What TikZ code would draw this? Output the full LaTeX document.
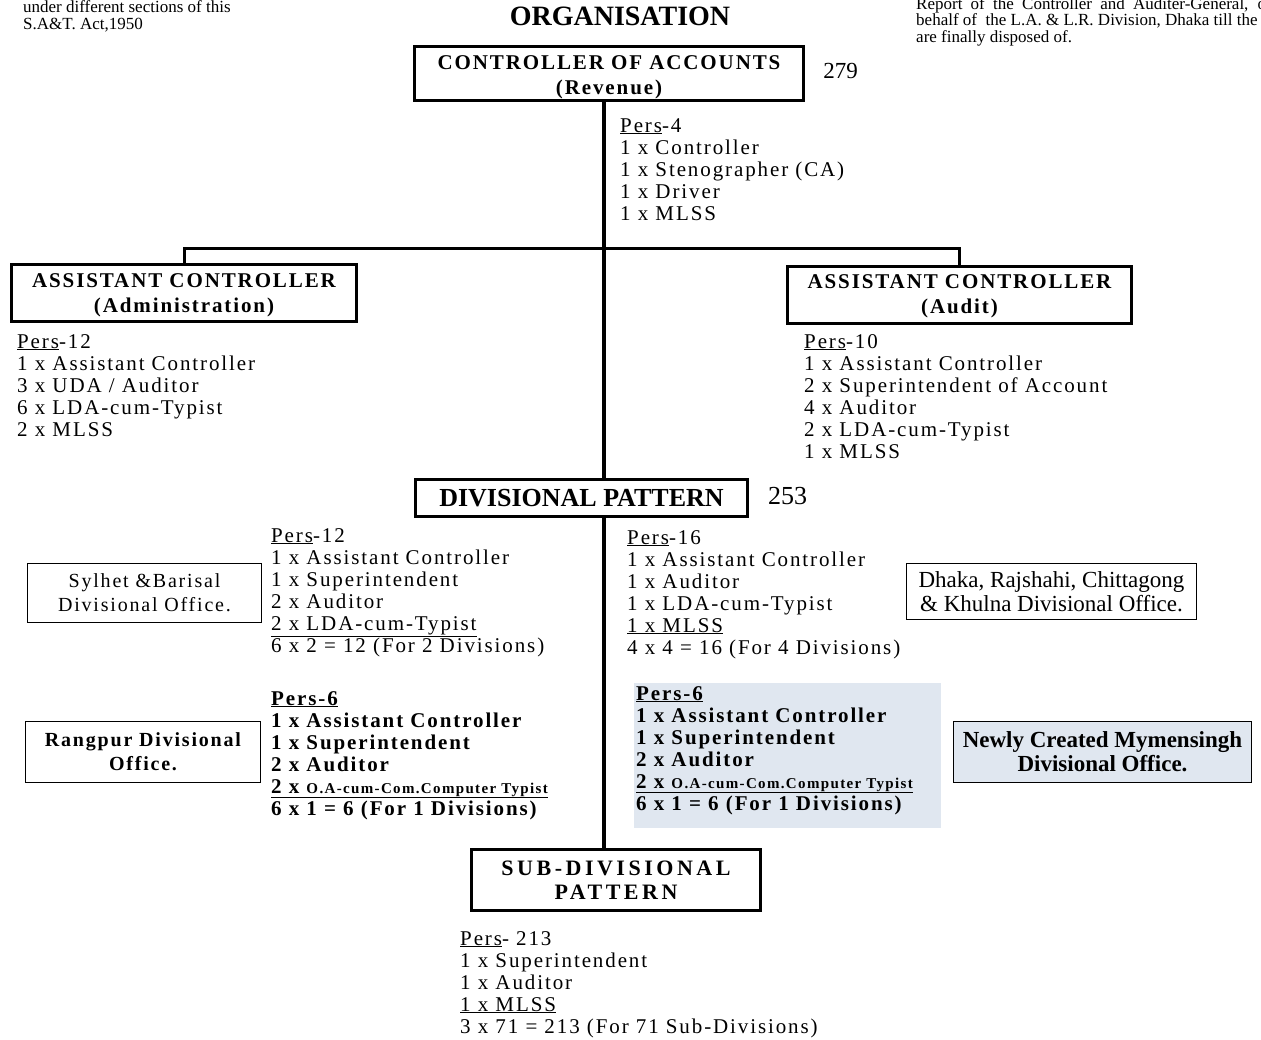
\documentclass[tikz,border=0pt]{standalone}
\usepackage{fontspec}
\setmainfont{Liberation Serif}
\newfontfamily\wide[LetterSpace=9]{Liberation Serif}
\newfontfamily\wider[LetterSpace=16]{Liberation Serif}
\definecolor{paleblue}{RGB}{224,231,240}
\tikzset{
    heavybox/.style={draw, line width=3.5pt, fill=white, align=center, inner sep=0pt},
    lightbox/.style={draw, line width=1.2pt, fill=white, align=center, inner sep=0pt},
    stemline/.style={line width=4pt},
    branchline/.style={line width=3pt},
    lst/.style={anchor=base west, inner sep=0pt, font=\wide\fontsize{21}{22}\selectfont},
    blst/.style={anchor=base west, inner sep=0pt, font=\wide\bfseries\fontsize{21}{22}\selectfont},
    note/.style={anchor=base west, inner sep=0pt, font=\fontsize{17}{18}\selectfont},
}
\begin{document}
\begin{tikzpicture}[x=1pt,y=-1pt]
        \useasboundingbox (0,0) rectangle (1261,1039);
        \clip (0,0) rectangle (1261,1039);
        \fill [paleblue] (634,683) rectangle (941,828);
        \node [note] (left1) at (23,12) {under different sections of this};
        \node [note] (left2) at (23,29) {S.A\&T. Act,1950};
        \node [note] (right1) at (916,9) {\makebox[350pt][s]{Report of the Controller and Auditer-General, o}};
        \node [note] (right2) at (916,25) {behalf of~ the L.A. \& L.R. Division, Dhaka till the};
        \node [note] (right3) at (916,42) {are finally disposed of.};
        \node [inner sep=0pt, font=\bfseries\fontsize{28}{30}\selectfont] (title) at (620,16) {ORGANISATION};
        \node [heavybox, minimum width=389pt, minimum height=54pt, font=\wide\bfseries\fontsize{21}{25}\selectfont] (ctrl) at (609,73.5) {\rule{0pt}{21pt}CONTROLLER OF ACCOUNTS\\(Revenue)};
        \node [inner sep=0pt, font=\fontsize{23}{25}\selectfont] (n279) at (840.5,71) {279};
        \node [heavybox, minimum width=345pt, minimum height=57pt, font=\wide\bfseries\fontsize{21}{25}\selectfont] (admin) at (184,293) {\rule{0pt}{19pt}ASSISTANT CONTROLLER\\(Administration)};
        \node [heavybox, minimum width=344pt, minimum height=57pt, font=\wide\bfseries\fontsize{21}{25}\selectfont] (audit) at (959.5,295) {\rule{0pt}{17pt}ASSISTANT CONTROLLER\\(Audit)};
        \node [heavybox, minimum width=332pt, minimum height=37pt, font=\bfseries\fontsize{26}{28}\selectfont] (divpat) at (581.5,498) {DIVISIONAL PATTERN};
        \node [inner sep=0pt, font=\fontsize{26}{28}\selectfont] (n253) at (787.5,496) {253};
        \node [heavybox, minimum width=289pt, minimum height=61pt, font=\wider\bfseries\fontsize{22}{24}\selectfont] (subdiv) at (616,880) {SUB-DIVISIONAL\\PATTERN};
        \node [lightbox, minimum width=234pt, minimum height=59pt, font=\wide\fontsize{20}{24}\selectfont] (sylhet) at (144.5,593) {Sylhet \&Barisal\\Divisional Office.};
        \node [lightbox, minimum width=290pt, minimum height=56pt, font=\fontsize{23}{24}\selectfont] (dhaka) at (1051.5,591.5) {Dhaka, Rajshahi, Chittagong\\\& Khulna Divisional Office.};
        \node [lightbox, minimum width=235pt, minimum height=61pt, font=\wide\bfseries\fontsize{20}{24}\selectfont] (rangpur) at (143,752) {Rangpur Divisional\\Office.};
        \node [lightbox, fill=paleblue, minimum width=298pt, minimum height=61pt, font=\bfseries\fontsize{23}{24}\selectfont] (newly) at (1102.5,752) {Newly Created Mymensingh\\Divisional Office.};
        \coordinate (stem) at (604,248);
        \draw [stemline] (stem |- ctrl.south) -- (stem |- divpat.north);
        \draw [stemline] (stem |- divpat.south) -- (stem |- subdiv.north);
        \draw [branchline] (admin.north) |- (stem) -| (audit.north);
        \foreach \t [count=\i from 0] in {{\underline{Pers}-4}, {1 x Controller}, {1 x Stenographer (CA)}, {1 x Driver}, {1 x MLSS}}
            \node [lst] (ca-\i) at (620,{132+22*\i}) {\t};
        \foreach \t [count=\i from 0] in {{\underline{Pers}-12}, {1 x Assistant Controller}, {3 x UDA / Auditor}, {6 x LDA-cum-Typist}, {2 x MLSS}}
            \node [lst] (ad-\i) at (17,{348+22*\i}) {\t};
        \foreach \t [count=\i from 0] in {{\underline{Pers}-10}, {1 x Assistant Controller}, {2 x Superintendent of Account}, {4 x Auditor}, {2 x LDA-cum-Typist}, {1 x MLSS}}
            \node [lst] (au-\i) at (804,{348+22*\i}) {\t};
        \foreach \t [count=\i from 0] in {{\underline{Pers}-12}, {1 x Assistant Controller}, {1 x Superintendent}, {2 x Auditor}, {\underline{2 x LDA-cum-Typist}}, {6 x 2 = 12 (For 2 Divisions)}}
            \node [lst] (sb-\i) at (271,{542+22*\i}) {\t};
        \foreach \t [count=\i from 0] in {{\underline{Pers}-16}, {1 x Assistant Controller}, {1 x Auditor}, {1 x LDA-cum-Typist}, {\underline{1 x MLSS}}, {4 x 4 = 16 (For 4 Divisions)}}
            \node [lst] (dk-\i) at (627,{544+22*\i}) {\t};
        \foreach \t [count=\i from 0] in {{\underline{Pers-6}}, {1 x Assistant Controller}, {1 x Superintendent}, {2 x Auditor}, {\underline{2 x {\fontsize{15}{16}\selectfont O.A-cum-Com.Computer Typist}}}, {6 x 1 = 6 (For 1 Divisions)}}
            \node [blst] (rp-\i) at (271,{705+22*\i}) {\t};
        \foreach \t [count=\i from 0] in {{\underline{Pers-6}}, {1 x Assistant Controller}, {1 x Superintendent}, {2 x Auditor}, {\underline{2 x {\fontsize{15}{16}\selectfont O.A-cum-Com.Computer Typist}}}, {6 x 1 = 6 (For 1 Divisions)}}
            \node [blst] (my-\i) at (636,{700+22*\i}) {\t};
        \foreach \t [count=\i from 0] in {{\underline{Pers}- 213}, {1 x Superintendent}, {1 x Auditor}, {\underline{1 x MLSS}}, {3 x 71 = 213 (For 71 Sub-Divisions)}}
            \node [lst] (sd-\i) at (460,{945+22*\i}) {\t};
\end{tikzpicture}
\end{document}
